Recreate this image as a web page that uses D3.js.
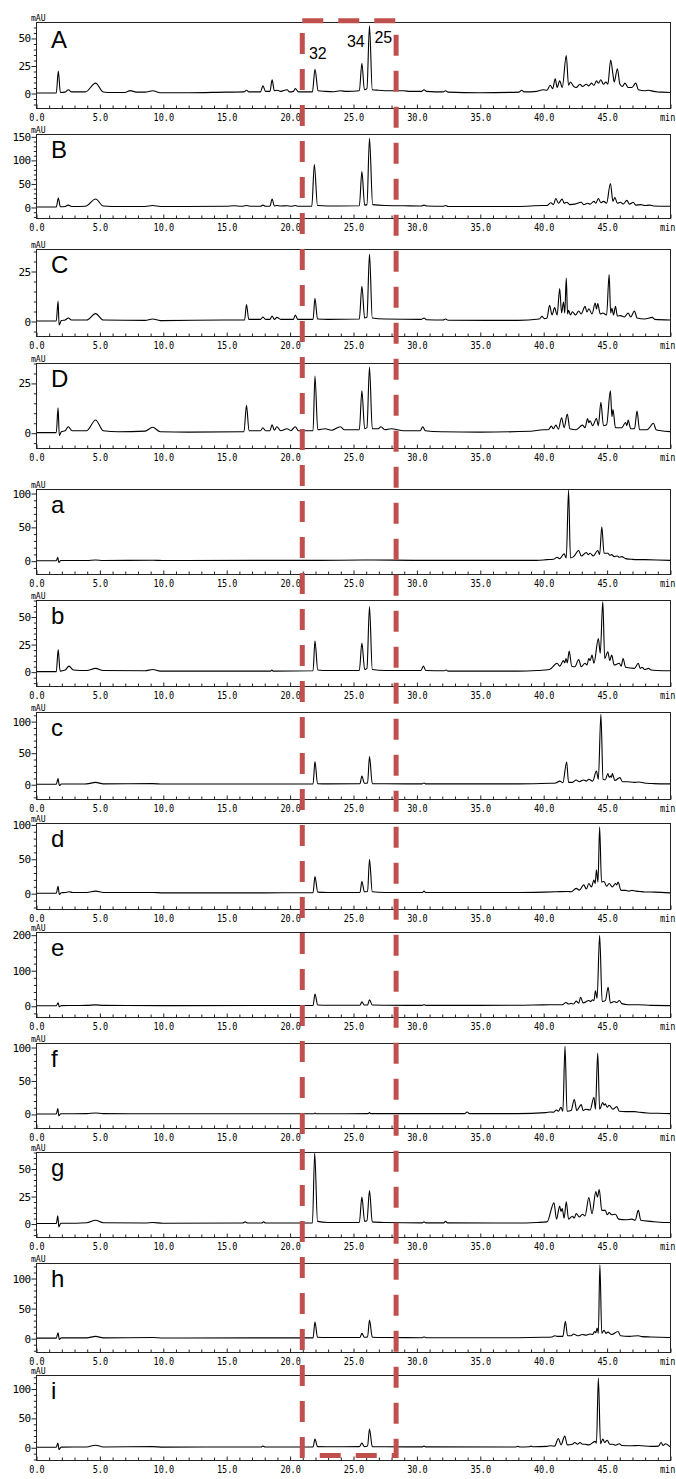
<!DOCTYPE html>
<html>
<head>
<meta charset="utf-8">
<script src="https://cdn.jsdelivr.net/npm/d3@7"></script>
<style>
  body { margin: 0; background: #fff; }
  svg { display: block; }
</style>
</head>
<body>
<svg id="chart" width="676" height="1479"></svg>
<script>
// sample names, top to bottom
var panelNames = ['A', 'B', 'C', 'D', 'a', 'b', 'c', 'd', 'e', 'f', 'g', 'h', 'i'];

// y axis range (mAU) and label step for each panel
var yRanges = [[-13.6, 64.5], [-23.4, 155], [-7.5, 36], [-7.7, 35], [-19.7, 106], [-13, 65],
    [-23.4, 114.5], [-23, 102], [-31.6, 207.5], [-21, 106], [-12.2, 65], [-23, 125], [-21.7, 123]];
var yStep = [25, 50, 25, 25, 50, 25, 50, 50, 100, 50, 25, 50, 50];

// traces: [retention time (min), signal (mAU)]
var traceA = [[0,0],[1.6,0],[1.76,20],[1.92,0.5],[2.3,0.8],[2.55,3],[2.8,1],[3.9,1],[4.7,9],[5.3,1],[6,0.5],[7,0.5],[7.45,2.2],[7.9,0.8],[8.6,0.8],[9.2,2],[9.8,0.3],[12,0.3],[15,0.8],[16.4,1],[16.6,2.5],[16.8,1],[17.7,1],[17.9,6.5],[18.1,1.5],[18.45,1.5],[18.62,12],[18.8,2],[19,2.5],[19.3,1.5],[19.8,3],[20,1],[20.3,1.5],[20.45,4],[20.7,1],[21.8,1],[22,21.5],[22.25,2],[22.8,1.5],[23.5,1.2],[24,2],[24.5,1.5],[25.5,2],[25.7,27],[25.9,3],[26.1,4],[26.3,61],[26.52,3],[27,2.5],[28,2],[29,2],[29.5,1.5],[30.4,1.5],[30.6,3],[30.8,1.5],[32.1,1],[32.3,2],[32.5,0.8],[35,0.3],[38.1,0.8],[38.3,2.5],[38.5,1],[39.5,1.5],[40,3],[40.3,2.5],[40.55,7],[40.75,4],[40.95,13],[41.1,5],[41.3,11],[41.5,5],[41.82,34],[42,7],[42.15,10],[42.4,6],[42.6,5],[42.9,8],[43.1,6],[43.4,8],[43.6,6.5],[43.8,9],[44,7],[44.2,11],[44.35,9],[44.55,12],[44.75,8],[44.95,10],[45.1,8],[45.32,30],[45.5,17],[45.6,10],[45.85,22],[46.05,8],[46.25,6],[46.45,9],[46.7,5],[47,5],[47.3,9],[47.5,3],[48,2],[48.3,2.5],[48.7,1.5],[49,1],[49.4,0.8],[50,0.5]];
var traceB = [[0,0],[1.6,0],[1.76,19],[1.92,0.5],[2.3,1],[2.55,4],[2.8,1],[3.9,1.5],[4.7,17],[5.3,2],[6,1],[8.6,1],[9.2,3],[9.8,1],[15,1.5],[15.6,2.5],[16.2,1.5],[16.6,3],[17,1.5],[17.7,1.5],[17.9,4],[18.1,1.5],[18.45,1.5],[18.62,17],[18.8,2],[19,3],[19.3,2],[19.8,2.5],[20.1,1.5],[20.45,3],[20.7,1.5],[21.75,1.5],[21.95,90],[22.2,3],[23,2],[25.5,2.5],[25.7,75],[25.92,4],[26.1,5],[26.3,146],[26.55,5],[27.5,3],[29,2.5],[30.4,2],[30.6,4],[30.8,2],[32.1,1.5],[32.3,3],[32.5,1],[38,1],[40,3],[40.3,3],[40.6,9],[40.8,5],[41,18],[41.2,8],[41.5,17],[41.65,8],[41.85,10],[42.1,5],[42.5,6],[43,10],[43.2,5],[43.5,8],[43.7,6],[44,12],[44.15,8],[44.35,18],[44.55,9],[44.75,12],[45,8],[45.3,50],[45.5,12],[45.65,20],[45.85,8],[46.1,10],[46.3,6],[46.6,14],[46.8,6],[47.1,10],[47.3,4],[47.7,5],[48,3],[48.4,4],[48.7,2],[50,1.5]];
var traceC = [[0,0],[1.6,0],[1.74,10],[1.82,-2],[2,0.2],[2.3,0.5],[2.55,1.5],[2.8,0.5],[4,0.5],[4.7,3.7],[5.3,0.5],[8.6,0.3],[9.2,1],[9.8,0.2],[15,0.5],[16.45,0.5],[16.6,8.2],[16.78,0.8],[17.7,0.8],[17.9,2],[18.1,0.8],[18.45,0.8],[18.62,2.5],[18.8,0.8],[19,1.8],[19.3,0.8],[20.3,0.8],[20.45,3],[20.65,0.8],[21.85,0.8],[22,11.4],[22.2,1],[23,0.8],[25.5,1],[25.7,17.4],[25.92,1.5],[26.1,2],[26.3,33.5],[26.52,1.5],[27.5,1],[30.4,0.8],[30.6,1.5],[30.8,0.6],[32.1,0.5],[32.3,1],[32.5,0.4],[38,0.3],[39.7,1],[39.9,2.3],[40.1,1.2],[40.3,1.5],[40.5,7.9],[40.7,3],[40.9,6.7],[41.1,3],[41.3,16.2],[41.45,4],[41.6,9.5],[41.7,4],[41.82,21.5],[41.92,3.5],[42,5.3],[42.15,3],[42.3,4.6],[42.55,3],[42.8,5],[43,3.5],[43.3,7.3],[43.45,4.5],[43.6,6.1],[43.85,3.5],[44.1,9],[44.2,6],[44.3,8.7],[44.5,3.5],[44.7,4],[45,3],[45.2,23.2],[45.32,4],[45.42,6.4],[45.55,3],[45.7,7.3],[45.85,2.5],[46.1,2.7],[46.4,2],[46.7,4],[46.9,2],[47.2,5],[47.4,1.5],[48,1],[48.6,1.8],[48.8,0.8],[50,0.5]];
var traceD = [[0,0],[1.6,0],[1.74,12.5],[1.84,-1.5],[2,0.5],[2.3,1],[2.55,3],[2.85,1],[4,1],[4.7,6.4],[5.3,1],[6.5,0.5],[8.6,0.8],[9.2,2.7],[9.8,0.5],[12,0.3],[16.4,0.5],[16.6,13.7],[16.8,1],[17.7,1],[17.9,2.5],[18.1,1],[18.45,1],[18.62,4],[18.8,1.2],[19,3],[19.3,1],[19.8,2],[20.1,1],[20.45,3],[20.7,1],[21.85,1],[22,28.5],[22.22,1.5],[22.8,2],[23.3,1.2],[24,3],[24.3,1.5],[25.5,1.5],[25.7,21],[25.92,2],[26.1,2.5],[26.3,33],[26.52,2],[27,2],[27.2,3],[27.5,1.5],[28,2],[29,1],[30.3,1],[30.5,3],[30.7,1],[32,0.5],[35,0.3],[39,0.7],[40,1.5],[40.4,1.5],[40.65,3.3],[40.8,2],[41,3.8],[41.2,1.8],[41.45,7.5],[41.65,2.5],[41.9,9.3],[42.1,2],[42.6,1.5],[43.1,3.8],[43.3,2.5],[43.5,7.1],[43.6,5],[43.7,6],[43.9,3.5],[44.2,7.1],[44.35,3.5],[44.55,15.2],[44.75,3.5],[45,4],[45.3,21],[45.42,8],[45.5,11.6],[45.7,2.5],[46.2,2.5],[46.5,5.1],[46.6,3.5],[46.7,6.3],[46.9,2],[47.2,2],[47.4,10.8],[47.6,1.5],[48.2,1.5],[48.7,4.7],[48.9,1.5],[49.3,1],[50,0.5]];
var traceLa = [[0,0],[1.6,0],[1.72,5],[1.8,-3],[1.95,0.3],[4,0.3],[4.7,1],[5.3,0.3],[9.2,0.7],[10,0.3],[22,0.5],[26.3,1],[30,0.5],[38,0.5],[39.5,0.5],[40.3,1.5],[40.8,2],[41.1,5],[41.3,3],[41.65,10],[41.82,4],[42,104],[42.15,4],[42.4,6],[42.8,15],[43,7],[43.4,12],[43.55,9],[43.7,11],[43.95,7],[44.3,15],[44.45,9],[44.62,50],[44.8,11],[45.1,11],[45.25,8],[45.4,9],[45.6,6],[45.85,7],[46,5],[46.2,6],[46.5,3],[47,2],[48,1.5],[50,0.5]];
var traceLb = [[0,0],[1.6,0],[1.75,20],[1.9,0.5],[2.3,1.5],[2.6,5],[2.95,1.5],[4,1],[4.7,3],[5.3,1],[8.6,0.8],[9.2,2],[9.8,0.5],[15,0.5],[18.5,0.5],[18.6,1.5],[18.7,0.5],[21.85,0.8],[22,28],[22.22,1.5],[23,1],[25.5,1.2],[25.7,26],[25.92,2],[26.1,3],[26.3,59],[26.52,2],[27.5,1],[30.35,1],[30.55,5],[30.75,1],[32.2,0.8],[32.35,1.5],[32.5,0.5],[38,0.5],[39.5,1],[40.5,2],[41.1,7.6],[41.3,5],[41.6,10],[41.7,8],[41.8,12],[41.9,8],[42.05,18.8],[42.25,5],[42.5,4.5],[42.8,11],[43,4.5],[43.3,7.6],[43.45,6],[43.6,12],[43.7,10],[43.85,15],[44,7.6],[44.35,30],[44.5,16.7],[44.7,63.5],[44.85,12],[45.1,18],[45.25,10],[45.4,15],[45.6,6],[46,7.6],[46.15,5],[46.3,12],[46.5,4],[47.2,3],[47.5,7.6],[47.65,3],[47.8,4],[48,2],[48.3,3],[48.5,1.5],[49,1],[50,0.8]];
var traceLc = [[0,0],[1.6,0],[1.74,9],[1.84,-2],[2,0.3],[4,0.5],[4.7,3],[5.3,0.5],[9.2,1],[10,0.3],[21.85,0.5],[22,36],[22.2,1],[23,0.6],[25.55,0.8],[25.7,13],[25.9,1.5],[26.15,2],[26.3,44],[26.52,1],[27.5,0.8],[30.45,0.6],[30.6,2],[30.75,0.5],[38,0.5],[40.5,1.5],[41,2],[41.3,5],[41.55,2.5],[41.85,35],[42,3],[42.3,3],[42.6,6.8],[42.85,4],[43.2,6.8],[43.4,5],[43.6,7.8],[43.9,5],[44.2,21],[44.35,8],[44.55,111],[44.72,8],[44.9,7],[45.1,17],[45.2,11],[45.3,13],[45.38,11],[45.45,17],[45.65,6],[46.05,10.5],[46.25,4],[46.6,4],[47.2,3],[47.5,3.5],[48.2,1.5],[48.7,1],[50,0.5]];
var traceLd = [[0,0],[1.6,0],[1.74,10],[1.84,-2],[2,0.5],[2.3,1],[2.6,2],[2.9,1],[4,1],[4.7,3],[5.3,1],[9.2,1],[10,0.5],[18,0.5],[21.85,0.8],[22,24],[22.22,1.5],[23,1],[25.55,1],[25.7,17],[25.9,2],[26.15,2.5],[26.3,49],[26.52,2],[27.5,1],[30.45,1],[30.6,3],[30.75,1],[38,1],[40,1.5],[41,2],[42,2.5],[42.2,2],[42.6,7],[42.85,4.5],[43.2,12],[43.4,6],[43.6,14],[43.8,9],[44,19],[44.1,14],[44.2,34],[44.32,16],[44.45,96],[44.6,16],[44.8,17],[45,10],[45.2,14],[45.45,9],[45.7,14],[45.8,12],[45.9,16],[46.15,4],[46.5,4],[46.75,3],[47,4],[47.3,3],[47.6,2.5],[48,1.8],[48.8,1.5],[50,0.5]];
var traceLe = [[0,0],[1.6,0],[1.74,8],[1.84,-3],[2,0.5],[4,1],[4.7,2.5],[5.3,1],[10,0.5],[21.85,1],[22,33],[22.22,2],[23,1.5],[25.55,1.5],[25.7,11],[25.9,2],[26.15,2],[26.3,17],[26.52,2],[27.5,1.5],[30.45,1],[30.6,3],[30.75,1],[38,1.5],[40,2.5],[41.5,3],[41.8,9],[42,5],[42.2,7],[42.4,5],[42.6,13],[42.8,7],[42.95,24],[43.15,8],[43.6,15],[43.75,12],[43.9,17],[44,14],[44.12,42],[44.25,21],[44.45,198],[44.65,12],[44.9,14],[45.12,52],[45.3,8],[45.6,12],[45.8,9],[46,15],[46.2,6],[46.7,3],[47.5,3],[48.5,1],[50,0.5]];
var traceLf = [[0,0],[1.6,0],[1.72,8],[1.8,-3],[1.95,0.3],[4,0.5],[4.7,1.5],[5.3,0.5],[10,0.3],[21.9,0.3],[22,1.5],[22.1,0.3],[26.2,0.5],[26.3,2],[26.4,0.5],[33.8,0.5],[34,3],[34.2,0.5],[38,0.5],[40.2,2],[40.6,3],[40.8,2.5],[41.05,6],[41.2,4],[41.4,10],[41.55,4],[41.72,101],[41.88,4],[42.2,5],[42.45,21.5],[42.65,5],[43,14],[43.15,5],[43.35,7],[43.7,6],[44,25],[44.12,7],[44.3,91],[44.45,7],[44.7,17],[44.8,13],[44.9,15],[45.05,10],[45.2,13],[45.5,7],[45.8,11],[46,4],[46.5,3.5],[47.2,3.5],[47.6,2.5],[48.2,1.5],[49,1],[50,0.5]];
var traceLg = [[0,0],[1.6,0],[1.72,7],[1.8,-3],[1.95,0.3],[2.3,0.3],[4,0.8],[4.7,3],[5.3,0.8],[8.6,0.5],[9.2,1],[10,0.3],[16.3,0.5],[16.5,1.5],[16.7,0.5],[17.8,0.5],[17.95,1.5],[18.1,0.5],[21.8,0.5],[21.98,64],[22.2,2],[23,1],[25.5,1],[25.7,24],[25.92,2],[26.1,2.5],[26.3,30],[26.52,1.5],[27.5,1],[30.45,0.6],[30.6,1.5],[30.75,0.6],[32.15,0.6],[32.3,2],[32.45,0.6],[38,0.5],[39.5,1],[40.3,1.5],[40.85,18.8],[41.05,4],[41.3,15.8],[41.4,11],[41.5,13.6],[41.65,5],[41.82,19.7],[42,4],[42.3,6.7],[42.45,5],[42.6,9],[42.85,6],[43.1,8.5],[43.3,7],[43.6,23.6],[43.85,9],[44.15,29],[44.28,24],[44.42,31],[44.62,12],[44.9,12],[45.05,8],[45.2,10],[45.4,8],[45.7,8.5],[45.95,4],[46.5,3.5],[47,4],[47.25,3],[47.5,12],[47.7,3],[48.5,2],[49.5,1],[50,1]];
var traceLh = [[0,0],[1.6,0],[1.74,9],[1.84,-2],[2,0.5],[4,0.5],[4.7,3],[5.3,0.5],[9.2,1],[10,0.3],[21.85,0.5],[22,27],[22.2,1.5],[23,1],[25.55,1],[25.7,8],[25.9,1.5],[26.15,2],[26.3,30],[26.52,1.5],[27.5,1],[30.45,0.8],[30.6,2],[30.75,0.8],[38,0.8],[40,1.5],[40.7,2],[40.9,4],[41.1,3],[41.55,3],[41.75,28],[41.92,4],[42.2,4],[42.4,7],[42.7,4],[43.1,6],[43.4,5],[43.7,7],[43.9,6],[44.05,11],[44.15,9],[44.25,17],[44.35,8],[44.47,122],[44.62,8],[44.8,13],[44.95,8],[45.1,10],[45.4,6],[45.9,11],[46.1,4],[46.8,3],[47.5,4],[47.8,2.5],[48.5,2],[50,1]];
var traceLi = [[0,0],[1.6,0],[1.72,7],[1.82,-4],[1.98,0.3],[4,0.5],[4.7,3.5],[5.3,0.5],[9.2,1],[10,0.3],[16.5,0.5],[17.75,0.5],[17.9,2],[18.05,0.5],[21.85,0.5],[22,14],[22.2,1],[23,0.8],[25.5,1],[25.7,7],[25.9,1],[26.15,2],[26.3,31],[26.52,1],[27.5,0.8],[30.45,0.6],[30.6,2],[30.75,0.6],[37.8,0.5],[38,1.5],[38.2,0.5],[38.9,0.8],[39.05,2],[39.2,0.8],[40.3,1.5],[40.6,2.5],[40.9,2],[41.2,15],[41.4,4],[41.7,19],[41.9,4],[42.3,5],[42.5,8],[42.7,5],[42.9,8],[43.1,5],[43.3,5],[43.6,4],[44.1,10],[44.2,7],[44.35,118],[44.52,6],[44.7,14],[44.85,8],[45.05,12],[45.25,5],[45.5,5],[45.7,3.5],[46,6],[46.2,3],[47,2.5],[47.5,3],[48.5,1.5],[49.1,2],[49.3,8],[49.45,3],[49.65,6],[50,1]];
var traces = [traceA, traceB, traceC, traceD, traceLa, traceLb, traceLc, traceLd, traceLe, traceLf, traceLg, traceLh, traceLi];

// numbered peaks marked in panel A
var peakLabels = ['32', '34', '25'];
var peakTimes = [22.0, 25.7, 26.3];
// highlighted retention window (min)
var boxWindow = [21.0, 28.4];

var svg = d3.select('#chart');
var width = +svg.attr('width');

// layout of each stacked panel (frame top / bottom in px)
var panelTop = [22, 134, 249, 363, 489, 600, 712, 823, 932, 1043, 1152, 1263, 1375];
var panelBottom = [108, 218, 336, 448, 574, 686, 799, 909, 1017, 1128, 1237, 1352, 1460];
var plotLeft = 36, plotRight = 670;
var monoFont = '"DejaVu Sans Mono", monospace';

var x = d3.scaleLinear().domain([0, 50]).range([plotLeft, plotRight]);

svg.append('rect').attr('width', width).attr('height', +svg.attr('height')).attr('fill', '#fff');

panelNames.forEach(function(name, i) {
    var top = panelTop[i], bottom = panelBottom[i];
    var y = d3.scaleLinear().domain(yRanges[i]).range([bottom, top]);
    var g = svg.append('g');

    var clipId = 'clip' + i;
    g.append('clipPath').attr('id', clipId)
        .append('rect').attr('x', plotLeft).attr('y', top)
        .attr('width', plotRight - plotLeft).attr('height', bottom - top);

    // trace
    var line = d3.line()
        .x(function(d) { return x(d[0]); })
        .y(function(d) { return y(d[1]); })
        .curve(d3.curveMonotoneX);
    g.append('path').datum(traces[i])
        .attr('clip-path', 'url(#' + clipId + ')')
        .attr('fill', 'none').attr('stroke', '#000').attr('stroke-width', 1.1)
        .attr('d', line);

    // frame
    g.append('rect').attr('x', plotLeft + 0.5).attr('y', top + 0.5)
        .attr('width', plotRight - plotLeft).attr('height', bottom - top)
        .attr('fill', 'none').attr('stroke', '#222').attr('stroke-width', 1);

    // x axis: major ticks with labels, minor ticks every minute
    var xMajor = d3.range(0, 46, 5).concat([50]);
    var xAxis = g.append('g').attr('transform', 'translate(0.5,' + (bottom + 0.5) + ')')
        .call(d3.axisBottom(x).tickValues(xMajor).tickSize(-4).tickSizeOuter(0).tickPadding(5)
            .tickFormat(function(d) { return d === 50 ? 'min' : d.toFixed(1); }));
    xAxis.select('.domain').remove();
    xAxis.attr('color', '#222');
    xAxis.selectAll('text').attr('font-family', monoFont).attr('font-size', 10)
        .attr('fill', '#000').attr('transform', 'scale(0.85,1)');
    xAxis.selectAll('.tick').filter(function(d) { return d === 50; }).select('text')
        .attr('text-anchor', 'end').attr('x', 5);

    var xMinor = g.append('g').attr('transform', 'translate(0.5,' + (bottom + 0.5) + ')')
        .call(d3.axisBottom(x).tickValues(d3.range(1, 50).filter(function(v) { return v % 5; }))
            .tickSize(-3).tickSizeOuter(0).tickFormat(''));
    xMinor.select('.domain').remove();
    xMinor.attr('color', '#222');

    // y axis
    var lo = yRanges[i][0], hi = yRanges[i][1], step = yStep[i], minor = step / 5;
    var yMajor = d3.range(0, hi + 0.01, step);
    var yMinorVals = d3.range(Math.ceil(lo / minor) * minor, hi + 0.01, minor)
        .filter(function(v) { return Math.abs(v % step) > 1e-6; });

    var yAxis = g.append('g').attr('transform', 'translate(' + (plotLeft + 0.5) + ',0.5)')
        .call(d3.axisLeft(y).tickValues(yMajor).tickSize(5).tickSizeOuter(0).tickPadding(1)
            .tickFormat(d3.format('d')));
    yAxis.select('.domain').remove();
    yAxis.attr('color', '#222');
    yAxis.selectAll('text').attr('font-family', monoFont).attr('font-size', 11).attr('fill', '#000')
        .attr('letter-spacing', -0.6);

    var yMinor = g.append('g').attr('transform', 'translate(' + (plotLeft + 0.5) + ',0.5)')
        .call(d3.axisLeft(y).tickValues(yMinorVals).tickSize(2.7).tickSizeOuter(0).tickFormat(''));
    yMinor.select('.domain').remove();
    yMinor.attr('color', '#222');

    // unit
    g.append('text').attr('transform', 'translate(31,' + (top - 1.5) + ') scale(0.9,1)')
        .attr('font-family', monoFont).attr('font-size', 9).attr('fill', '#000')
        .text('mAU');

    // panel letter
    g.append('text').attr('x', 51).attr('y', top + (i === 0 ? 26 : 24))
        .attr('font-family', '"Liberation Sans", Arial, sans-serif').attr('font-size', 24)
        .attr('fill', '#000').text(name);

    if (i === 0) {
        var dx = [-6, -15, 5], ly = [59, 47, 43];
        peakLabels.forEach(function(lbl, k) {
            g.append('text').attr('x', x(peakTimes[k]) + dx[k]).attr('y', ly[k])
                .attr('font-family', '"Liberation Sans", Arial, sans-serif').attr('font-size', 16)
                .attr('fill', '#000').text(lbl);
        });
    }
});

// dashed highlight box
svg.append('rect')
    .attr('x', x(boxWindow[0])).attr('y', 20.7)
    .attr('width', x(boxWindow[1]) - x(boxWindow[0])).attr('height', 1455.5 - 20.7)
    .attr('fill', 'none').attr('stroke', '#c0504d').attr('stroke-width', 5)
    .attr('stroke-dasharray', '21 15');
</script>
</body>
</html>
